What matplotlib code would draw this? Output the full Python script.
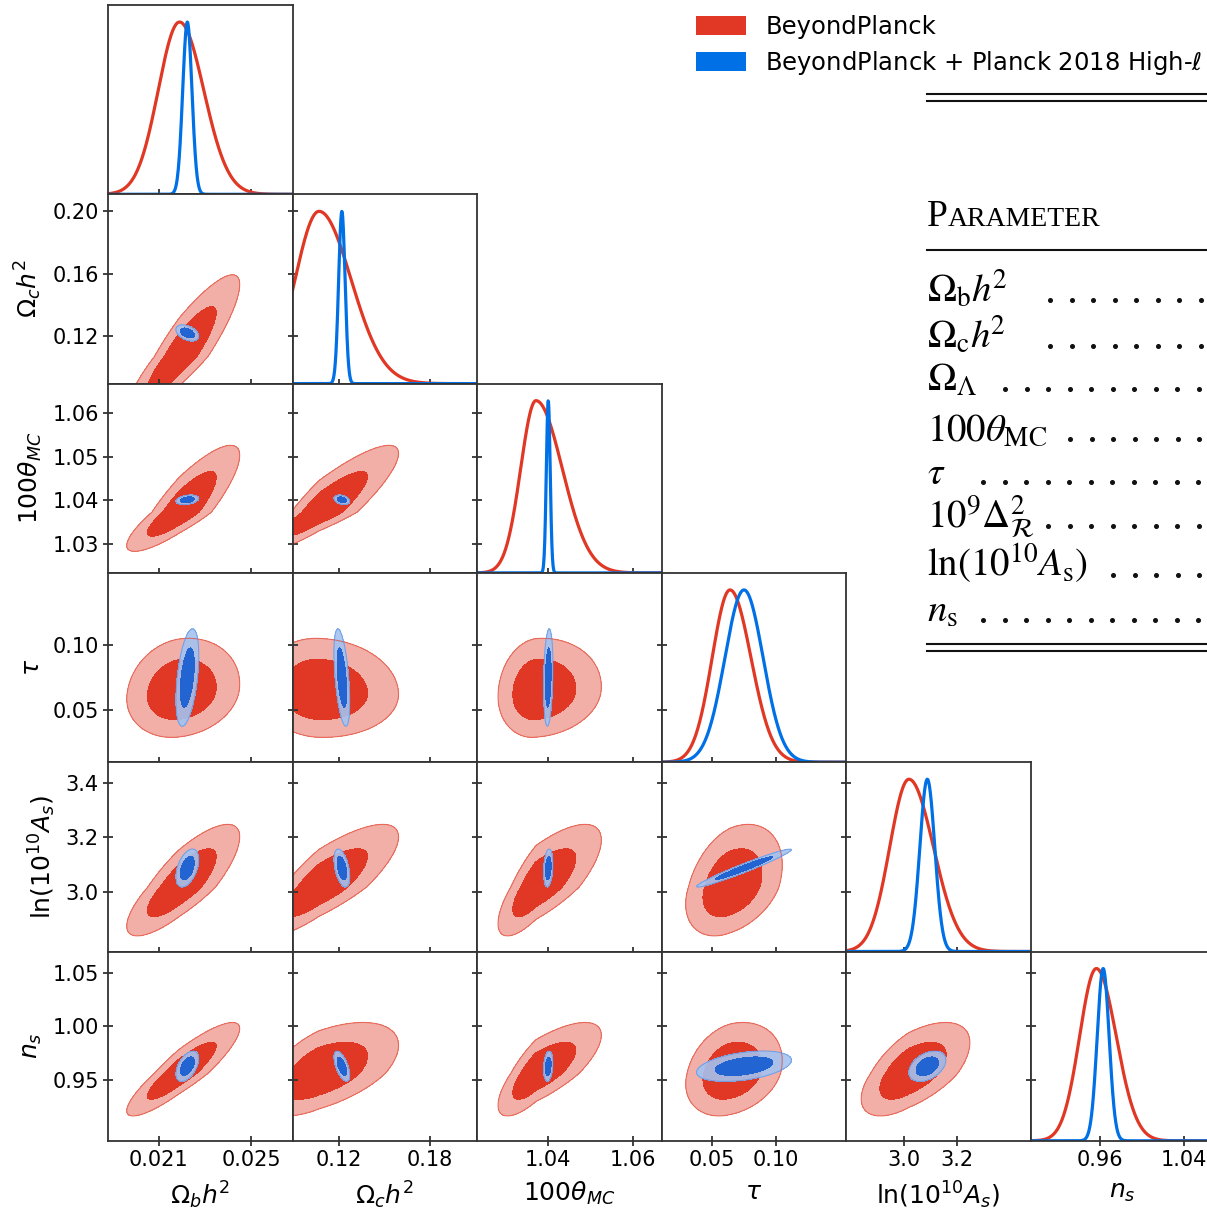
import numpy as np
import matplotlib
matplotlib.use('Agg')
import matplotlib.pyplot as plt
from matplotlib.patches import Patch
from matplotlib.lines import Line2D

# parameters, plot ranges and ticks
names = [r'$\Omega_b h^2$', r'$\Omega_c h^2$', r'$100\theta_{MC}$', r'$\tau$',
         r'$\ln(10^{10}A_s)$', r'$n_s$']
lims = [(0.0188, 0.0268), (0.0896, 0.2107), (1.0233, 1.0668), (0.0102, 0.1551),
        (2.783, 3.475), (0.8936, 1.0698)]
xticks = [[0.021, 0.025], [0.12, 0.18], [1.04, 1.06], [0.05, 0.10], [3.0, 3.2], [0.96, 1.04]]
xticklabels = [['0.021', '0.025'], ['0.12', '0.18'], ['1.04', '1.06'], ['0.05', '0.10'],
               ['3.0', '3.2'], ['0.96', '1.04']]
yticks = [[], [0.12, 0.16, 0.20], [1.03, 1.04, 1.05, 1.06], [0.05, 0.10],
          [3.0, 3.2, 3.4], [0.95, 1.00, 1.05]]
yticklabels = [[], ['0.12', '0.16', '0.20'], ['1.03', '1.04', '1.05', '1.06'],
               ['0.05', '0.10'], ['3.0', '3.2', '3.4'], ['0.95', '1.00', '1.05']]

# BeyondPlanck posterior (mode, lower / upper width)
bp_mode = [0.0219, 0.107, 1.0372, 0.064, 3.019, 0.9565]
bp_lo = [0.00092, 0.0157, 0.0036, 0.0140, 0.072, 0.016]
bp_hi = [0.00105, 0.0210, 0.0062, 0.0165, 0.092, 0.019]
bp_corr = [[1.00, 0.88, 0.85, 0.15, 0.80, 0.88],
           [0.88, 1.00, 0.88, -0.05, 0.80, 0.55],
           [0.85, 0.88, 1.00, 0.10, 0.75, 0.75],
           [0.15, -0.05, 0.10, 1.00, 0.35, 0.25],
           [0.80, 0.80, 0.75, 0.35, 1.00, 0.60],
           [0.88, 0.55, 0.75, 0.25, 0.60, 1.00]]

# BeyondPlanck + Planck 2018 high-ell posterior
hp_mode = [0.02224, 0.1220, 1.0401, 0.075, 3.088, 0.963]
hp_sig = [0.00020, 0.0021, 0.00045, 0.0150, 0.028, 0.0057]
hp_corr = [[1.00, -0.40, 0.30, 0.45, 0.45, 0.50],
           [-0.40, 1.00, -0.30, -0.50, -0.45, -0.60],
           [0.30, -0.30, 1.00, 0.20, 0.20, 0.20],
           [0.45, -0.50, 0.20, 1.00, 0.97, 0.40],
           [0.45, -0.45, 0.20, 0.97, 1.00, 0.40],
           [0.50, -0.60, 0.20, 0.40, 0.40, 1.00]]

labels = ['BeyondPlanck', r'BeyondPlanck + Planck 2018 High-$\ell$']

red = '#E03824'
blue = '#0070E6'
spine_c = '#333333'
# (line colour, outer fill, outer alpha, outer edge, inner fill)
styles = [(red, red, 0.4, red, red),
          (blue, '#A4C2F0', 0.9, '#4F8BE3', '#2264D2')]

W, H = 1207, 1210


def fx(x):
    return x / W


def fy(y):
    return 1 - y / H


def scaled(x, m, lo, hi):
    return np.where(x < m, (x - m) / lo, (x - m) / hi)


dists = [(bp_mode, bp_lo, bp_hi, bp_corr), (hp_mode, hp_sig, hp_sig, hp_corr)]

fig = plt.figure(figsize=(W / 100, H / 100), dpi=100)

n = len(names)
x0, colw, y0, rowh = 108, 184.5, 5, 189.3

for i in range(n):
    for j in range(i + 1):
        ax = fig.add_axes([fx(x0 + j * colw), fy(y0 + (i + 1) * rowh), colw / W, rowh / H])
        ax.set_xlim(lims[j])
        ax.set_ylim(lims[i])
        if i == j:
            xs = np.linspace(lims[j][0], lims[j][1], 600)
            for (mode, lo, hi, corr), st in zip(dists, styles):
                p = np.exp(-0.5 * scaled(xs, mode[j], lo[j], hi[j]) ** 2)
                ax.plot(xs, lims[i][0] + 0.91 * (lims[i][1] - lims[i][0]) * p,
                        color=st[0], lw=2.3)
        else:
            xs = np.linspace(lims[j][0], lims[j][1], 250)
            ys = np.linspace(lims[i][0], lims[i][1], 250)
            X, Y = np.meshgrid(xs, ys)
            for (mode, lo, hi, corr), st in zip(dists, styles):
                u = scaled(X, mode[j], lo[j], hi[j])
                v = scaled(Y, mode[i], lo[i], hi[i])
                r = corr[i][j]
                chi2 = (u ** 2 - 2 * r * u * v + v ** 2) / (1 - r ** 2)
                ax.contourf(X, Y, chi2, levels=[0, 6.18], colors=[st[1]], alpha=st[2])
                ax.contour(X, Y, chi2, levels=[6.18], colors=[st[3]], alpha=0.6,
                           linewidths=0.8)
                ax.contourf(X, Y, chi2, levels=[0, 2.30], colors=[st[4]])

        ax.set_xticks(xticks[j])
        ax.set_yticks(yticks[i])
        ax.tick_params(direction='inout', length=7, width=1.3, color=spine_c,
                       labelsize=15, pad=3)
        for s in ax.spines.values():
            s.set_color(spine_c)
            s.set_linewidth(1.3)
        if i == n - 1:
            ax.set_xticklabels(xticklabels[j])
            ax.set_xlabel(names[j], fontsize=18, labelpad=7)
        else:
            ax.set_xticklabels([])
        if j == 0 and i > 0:
            ax.set_yticklabels(yticklabels[i])
            ax.set_ylabel(names[i], fontsize=18, labelpad=6)
        else:
            ax.set_yticklabels([])

# legend
handles = [Patch(facecolor=red, edgecolor='none'), Patch(facecolor=blue, edgecolor='none')]
fig.legend(handles, labels, loc='upper left', bbox_to_anchor=(fx(696), fy(15)),
           frameon=False, fontsize=17.5, handlelength=2.05, handleheight=0.8,
           handletextpad=0.8, labelspacing=0.42, borderpad=0, borderaxespad=0)

# parameter table excerpt on the right
tx = 927
for yl in [94, 101, 250, 644, 651]:
    fig.add_artist(Line2D([fx(tx), 1.0], [fy(yl), fy(yl)], transform=fig.transFigure,
                          color='#111111', lw=1.5))

fig.text(fx(tx), fy(226), 'P', fontsize=27, family='Liberation Serif', va='baseline')
fig.text(fx(tx + 21), fy(226), 'ARAMETER', fontsize=20, family='Liberation Serif',
         va='baseline')

table_rows = [r'$\Omega_{\rm b}h^{\!2}$', r'$\Omega_{\rm c}h^{\!2}$', r'$\Omega_\Lambda$',
              r'$100\theta_{\rm MC}$', r'$\tau$', r'$10^9\Delta^2_{\mathcal{R}}$',
              r'$\ln(10^{10}A_{\rm s})$', r'$n_{\rm s}$']
row_base = [302, 348, 391, 441, 484, 528, 577, 622]
dot_start = [1050, 1050, 1005, 1070, 983, 1048, 1113, 983]
for txt, yb, xd in zip(table_rows, row_base, dot_start):
    fig.text(fx(tx), fy(yb), txt, fontsize=28, math_fontfamily='stix', va='baseline')
    dx = np.arange(xd, W + 5, 21.5)
    fig.add_artist(Line2D(dx / W, np.full(len(dx), fy(yb - 2)), transform=fig.transFigure,
                          ls='none', marker='o', ms=2.6, color='#111111'))

fig.savefig('out.png', dpi=100)
